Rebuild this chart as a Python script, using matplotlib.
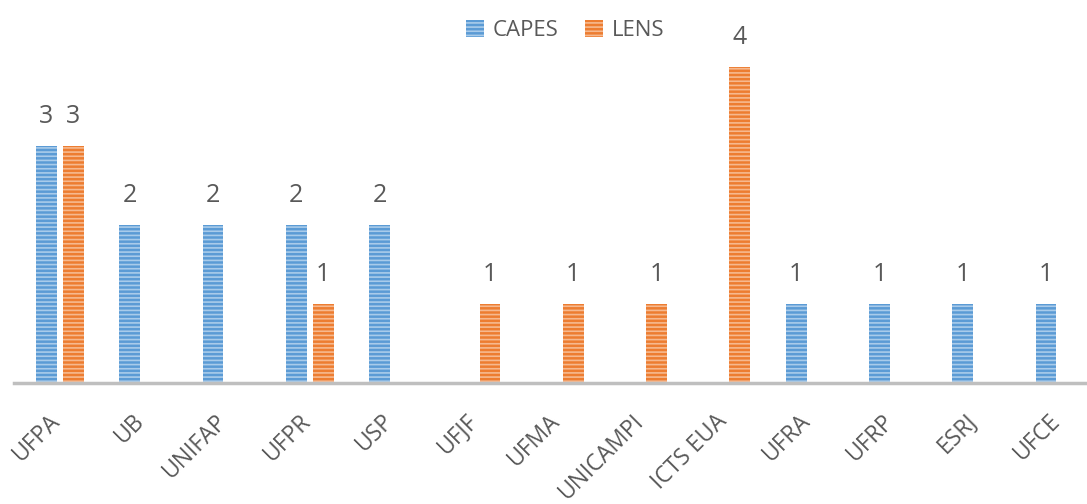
"""Publications by institution, CAPES vs LENS, Excel-style striped bars."""

import matplotlib

matplotlib.use("Agg")
import matplotlib.pyplot as plt
import matplotlib.transforms as mtransforms
import numpy as np

categories = ["UFPA", "UB", "UNIFAP", "UFPR", "USP", "UFJF", "UFMA",
              "UNICAMPI", "ICTS EUA", "UFRA", "UFRP", "ESRJ", "UFCE"]
capes = [3, 2, 2, 2, 2, 0, 0, 0, 0, 1, 1, 1, 1]
lens = [3, 0, 0, 1, 0, 1, 1, 1, 4, 0, 0, 0, 0]
series_names = ["CAPES", "LENS"]

COLORS = {
    "capes": "#5B9BD5",
    "capes_stripe": "#A9CBEA",
    "lens": "#ED7D31",
    "lens_stripe": "#F6B98F",
    "text": "#595959",
    "axis": "#BFBFBF",
}

plt.rcParams["font.family"] = ["Open Sans", "DejaVu Sans"]
plt.rcParams["hatch.linewidth"] = 1.2

fig = plt.figure(figsize=(10.87, 5.04), dpi=100)
ax = fig.add_axes([0.0, 0.24, 1.0, 0.76])

x = np.arange(len(categories))
width = 0.25
offset = 0.162

series = [
    (capes, -offset, COLORS["capes"], COLORS["capes_stripe"]),
    (lens, offset, COLORS["lens"], COLORS["lens_stripe"]),
]
handles = []
for (vals, off, face, stripe), name in zip(series, series_names):
    bars = ax.bar(x + off, vals, width, color=face, edgecolor=stripe,
                  linewidth=0, hatch="----", label=name)
    handles.append(bars)
    for xi, v in zip(x + off, vals):
        if v:
            ax.annotate(str(v), (xi, v), xytext=(0, 12), textcoords="offset points",
                        ha="center", va="bottom", fontsize=18, color=COLORS["text"])

xmin = -0.72
ax.set_xlim(xmin, xmin + 1087 / 83.3)
ax.set_ylim(0, 383 / 79)

for side in ("top", "right", "left"):
    ax.spines[side].set_visible(False)
ax.spines["bottom"].set_color(COLORS["axis"])
ax.spines["bottom"].set_linewidth(2.5)
ax.spines["bottom"].set_bounds(-0.55, xmin + 1087 / 83.3)

ax.set_yticks([])
ax.set_xticks(x)
ax.set_xticklabels(categories, rotation=45, ha="right", va="center",
                   rotation_mode="anchor", fontsize=16.5, color=COLORS["text"])
ax.tick_params(axis="x", length=0, pad=25)
shift = mtransforms.ScaledTranslation(-2 / 72, 0, fig.dpi_scale_trans)
for lbl in ax.get_xticklabels():
    lbl.set_transform(lbl.get_transform() + shift)

leg = fig.legend(handles=handles, labels=series_names, loc="upper center",
                 bbox_to_anchor=(0.52, 1.0), ncol=2, frameon=False,
                 fontsize=16, handlelength=0.8, handleheight=0.8,
                 handletextpad=0.4, columnspacing=1.2)
for txt in leg.get_texts():
    txt.set_color(COLORS["text"])

fig.savefig("out.png", dpi=100)
